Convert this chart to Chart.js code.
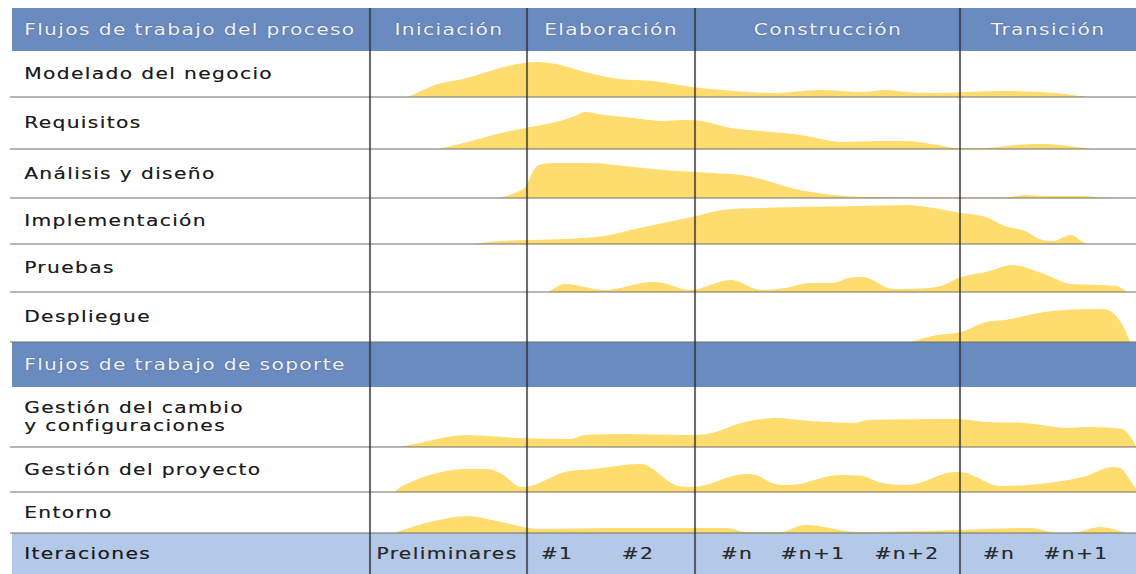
<!DOCTYPE html>
<html lang="es">
<head>
<meta charset="utf-8">
<script src="https://cdn.jsdelivr.net/npm/chart.js@4.4.1/dist/chart.umd.min.js"></script>
<style>
    body { margin: 0; background: #fff; width: 1136px; height: 574px; overflow: hidden; position: relative;
           font-family: "DejaVu Sans", Verdana, sans-serif; }
    .band { position: absolute; left: 12px; width: 1124px; background: #6a8bc0; }
    .band.iter { background: #b4c8e8; }
    .row { position: absolute; left: 12px; width: 358px; display: flex; align-items: center; }
    .txt { display: inline-block; font-size: 15px; letter-spacing: 1px; line-height: 18px; white-space: nowrap;
           color: #1c1c1c; transform-origin: left center; transform: scaleX(1.35); padding-left: 9px;
           text-shadow: 0 0 0.5px rgba(0, 0, 0, 0.5); }
    .head .txt { color: #f3f5fa; text-shadow: 0 0 1px rgba(40, 50, 80, 0.7); }
    .center { position: absolute; font-size: 15px; letter-spacing: 1px; white-space: nowrap; line-height: 18px;
              transform: translate(-50%, -50%) scaleX(1.35); }
    .phase { color: #f3f5fa; text-shadow: 0 0 1px rgba(40, 50, 80, 0.7); }
    .iterlbl { color: #2a2a2a; text-shadow: 0 0 0.5px rgba(0, 0, 0, 0.5); }
    .sep { position: absolute; left: 10px; width: 1126px; height: 2px; background: rgba(110, 110, 110, 0.5); z-index: 5; }
    .vline { position: absolute; top: 8px; height: 566px; width: 2px; background: rgba(45, 45, 45, 0.7);
             box-shadow: 0 0 1px rgba(0, 0, 0, 0.3); z-index: 6; }
    canvas { position: absolute; left: 370px; }
</style>
</head>
<body>
<script>
// --- DATOS ---
const fases = ['Iniciación', 'Elaboración', 'Construcción', 'Transición'];
const limitesFase = [0, 157, 325, 590, 766];   // tiempo del proyecto
const iteraciones = ['Preliminares', '#1', '#2', '#n', '#n+1', '#n+2', '#n', '#n+1'];
const tiempoIteraciones = [77, 187, 268, 367, 443, 537, 629, 706];

const tituloProceso = 'Flujos de trabajo del proceso';
const tituloSoporte = 'Flujos de trabajo de soporte';
const tituloIteraciones = 'Iteraciones';

// esfuerzo de cada flujo a lo largo del tiempo [tiempo, esfuerzo]
const modelado = [[38,0],[68,13],[93,18],[127,28],[147,33],[166,35],[186,33],[215,25],[249,18],[283,16],[322,10],[352,7],[405,4],[449,7],[493,5],[515,7],[537,5],[562,4],[630,6],[684,4],[718,0]];
const requisitos = [[68,0],[98,7],[127,15],[156,21],[190,28],[205,33],[215,37],[234,34],[264,31],[293,28],[313,29],[332,28],[361,21],[391,18],[430,14],[474,7],[508,8],[537,8],[567,4],[586,1],[616,1],[645,4],[674,5],[699,3],[723,0]];
const analisis = [[129,0],[147,6],[157,13],[161,23],[169,33],[186,35],[220,35],[254,32],[293,28],[342,25],[371,23],[391,19],[425,9],[464,3],[498,1],[635,0.5],[655,3],[674,2],[694,2],[713,2],[733,0.5],[762,0]];
const implementacion = [[103,0],[132,3],[195,5],[234,8],[274,17],[322,27],[352,34],[391,36],[489,38],[537,39],[557,37],[591,31],[616,27],[635,18],[655,13],[669,5],[684,3],[694,7],[701,9],[713,2],[718,0]];
const pruebas = [[178,0],[195,8],[234,2],[283,10],[293,9],[320,2],[361,12],[391,2],[415,4],[440,9],[462,9],[479,14],[493,15],[523,3],[567,5],[591,15],[616,20],[642,27],[674,18],[701,8],[747,6],[757,0]];
const despliegue = [[540,0],[567,7],[591,10],[616,20],[635,22],[674,30],[728,33],[738,32],[752,18],[760,0]];
const cambio = [[29,0],[49,4],[83,11],[98,12],[147,9],[200,8],[215,12],[254,13],[313,12],[342,14],[371,24],[405,29],[440,26],[484,24],[498,27],[586,28],[616,25],[655,24],[699,19],[713,20],[752,18],[762,8],[766,0]];
const proyecto = [[24,0],[34,7],[98,23],[117,23],[132,18],[151,5],[161,6],[195,20],[225,23],[269,28],[276,27],[308,6],[322,5],[376,18],[386,17],[405,8],[420,7],[469,17],[493,16],[508,10],[537,7],[586,20],[596,19],[630,6],[713,15],[743,25],[750,24],[766,3]];
const entorno = [[24,0],[64,12],[98,17],[112,15],[127,12],[171,4],[244,5],[357,5],[376,1],[410,1],[435,8],[489,1],[586,3],[660,5],[689,0],[708,1],[730,6],[757,0]];

const flujosProceso = [
    { nombre: ['Modelado del negocio'], serie: modelado },
    { nombre: ['Requisitos'], serie: requisitos },
    { nombre: ['Análisis y diseño'], serie: analisis },
    { nombre: ['Implementación'], serie: implementacion },
    { nombre: ['Pruebas'], serie: pruebas },
    { nombre: ['Despliegue'], serie: despliegue }
];
const flujosSoporte = [
    { nombre: ['Gestión del cambio', 'y configuraciones'], serie: cambio },
    { nombre: ['Gestión del proyecto'], serie: proyecto },
    { nombre: ['Entorno'], serie: entorno }
];

// --- MAQUETA (px) ---
const headTop = 8, headBottom = 51;
const filasProceso = [51, 97, 149, 198, 244, 292, 342];
const soporteHead = [342, 387];
const filasSoporte = [387, 447, 492, 533];
const iterBand = [533, 574];
const amarillo = '#ffdc6e';

function addDiv(cls, top, height, html) {
    const d = document.createElement('div');
    d.className = cls;
    d.style.top = top + 'px';
    if (height != null) d.style.height = height + 'px';
    if (html != null) d.innerHTML = html;
    document.body.appendChild(d);
    return d;
}

// bandas azules
addDiv('band', headTop, headBottom - headTop);
addDiv('band', soporteHead[0], soporteHead[1] - soporteHead[0]);
addDiv('band iter', iterBand[0], iterBand[1] - iterBand[0]);
addDiv('row head', headTop, headBottom - headTop, `<span class="txt">${tituloProceso}</span>`);
addDiv('row head', soporteHead[0], soporteHead[1] - soporteHead[0], `<span class="txt">${tituloSoporte}</span>`);
addDiv('row', iterBand[0], iterBand[1] - iterBand[0], `<span class="txt">${tituloIteraciones}</span>`);

const charts = [];
function makeRow(flujo, top, bottom) {
    const h = bottom - top;
    addDiv('row', top, h, `<span class="txt">${flujo.nombre.join('<br>')}</span>`);
    addDiv('sep', bottom - 1);
    const canvas = document.createElement('canvas');
    canvas.width = 766;
    canvas.height = h;
    canvas.style.top = top + 'px';
    document.body.appendChild(canvas);
    const chart = new Chart(canvas.getContext('2d'), {
        type: 'line',
        data: {
            datasets: [{
                data: flujo.serie.map(p => ({ x: p[0], y: p[1] })),
                fill: 'origin',
                backgroundColor: amarillo,
                borderWidth: 0,
                pointRadius: 0,
                cubicInterpolationMode: 'monotone'
            }]
        },
        options: {
            responsive: false,
            animation: false,
            events: [],
            layout: { padding: 0 },
            plugins: { legend: { display: false }, tooltip: { enabled: false } },
            scales: {
                x: { type: 'linear', min: limitesFase[0], max: limitesFase[limitesFase.length - 1], display: false },
                y: { min: 0, max: h, display: false }
            }
        }
    });
    charts.push(chart);
}

flujosProceso.forEach((f, i) => makeRow(f, filasProceso[i], filasProceso[i + 1]));
flujosSoporte.forEach((f, i) => makeRow(f, filasSoporte[i], filasSoporte[i + 1]));

// posiciones en pantalla a partir de la escala x del gráfico
const xs = charts[0].scales.x;
const px = t => 370 + xs.getPixelForValue(t);

limitesFase.slice(0, -1).forEach(t => {
    const v = addDiv('vline', headTop);
    v.style.left = (px(t) - 1) + 'px';
});

fases.forEach((f, i) => {
    const d = addDiv('center phase', (headTop + headBottom) / 2, null, f);
    d.style.left = px((limitesFase[i] + limitesFase[i + 1]) / 2) + 'px';
});

iteraciones.forEach((it, i) => {
    const d = addDiv('center iterlbl', (iterBand[0] + iterBand[1]) / 2, null, it);
    d.style.left = px(tiempoIteraciones[i]) + 'px';
});
</script>
</body>
</html>
